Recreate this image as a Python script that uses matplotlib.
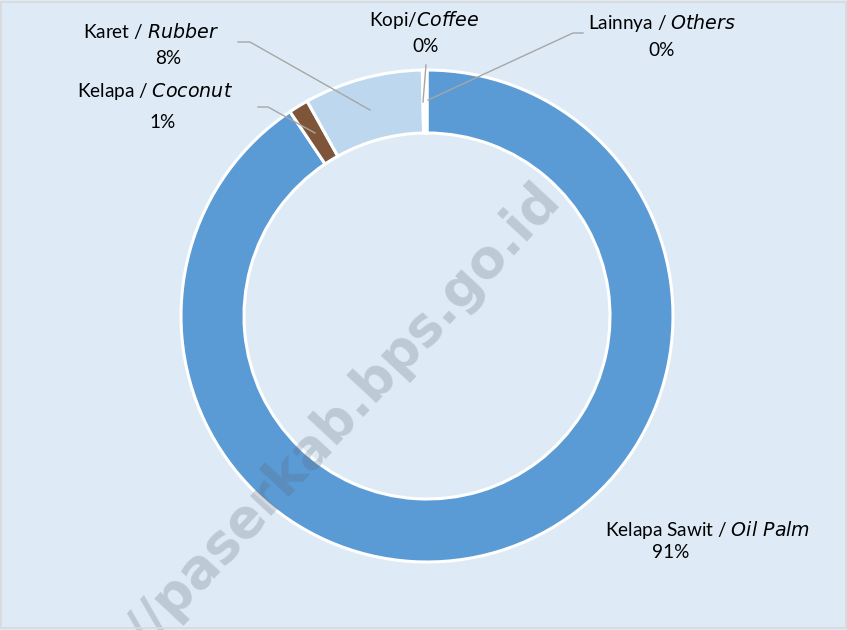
import matplotlib
matplotlib.use('Agg')
import matplotlib.pyplot as plt
from matplotlib.patches import Rectangle

# share of plantation area by crop (%), clockwise from 12 o'clock
crops_id = ['Kelapa Sawit', 'Kelapa', 'Karet', 'Kopi', 'Lainnya']
crops_en = ['Oil Palm', 'Coconut', 'Rubber', 'Coffee', 'Others']
shares = [90.6, 1.3, 7.8, 0.2, 0.1]
colors = ['#5B9BD5', '#7F5539', '#BDD7EE', '#FFC000', '#F4B183']

BG = '#DEEBF7'
plt.rcParams['font.family'] = ['Lato', 'DejaVu Sans']

fig = plt.figure(figsize=(8.47, 6.3), dpi=100)
fig.patch.set_facecolor(BG)
ax = fig.add_axes([0, 0, 1, 1])
ax.set_facecolor(BG)

# y axis is flipped so work in pixel-like coordinates; counterclock in data = clockwise on screen
ax.pie(shares, colors=colors, startangle=-90, counterclock=True,
       center=(427, 316), radius=246, frame=False,
       wedgeprops=dict(width=63, edgecolor='white', linewidth=2.2))
ax.set_xlim(0, 847)
ax.set_ylim(630, 0)
ax.axis('off')

# leader lines
line_kw = dict(color='#A6A6A6', lw=1.0, zorder=3)
ax.plot([238, 250, 370], [42, 42, 110], **line_kw)
ax.plot([258, 268, 315], [107, 107, 133], **line_kw)
ax.plot([426, 423], [65, 102], **line_kw)
ax.plot([583, 573, 428], [33, 33, 100], **line_kw)

# labels: (name line center, percent line center)
label_pos = [((708, 530), (671, 553)),
             ((155, 92), (163, 122)),
             ((151, 31), (168, 58)),
             ((424, 20), (426, 47)),
             ((662, 23), (662, 50))]
seps = [' / ', ' / ', ' / ', '/', ' / ']
fs = 13.7
for name, eng, sh, sep, (p1, p2) in zip(crops_id, crops_en, shares, seps, label_pos):
    ax.text(p1[0], p1[1], f'{name}{sep}$\\it{{{eng.replace(" ", "~")}}}$',
            ha='center', va='center', fontsize=fs, color='black')
    ax.text(p2[0], p2[1], f'{round(sh):.0f}%', ha='center', va='center',
            fontsize=fs, color='black')

# watermark
ax.text(344, 416, '//paserkab.bps.go.id', rotation=47, ha='center', va='center',
        fontsize=38, fontweight='bold', color='#5A6470', alpha=0.25, zorder=5,
        family=['DejaVu Sans'])

fig.add_artist(Rectangle((0.001, 0.003), 0.998, 0.994, transform=fig.transFigure,
                         fill=False, edgecolor='#D9D9D9', lw=1.2))

fig.savefig('out.png', dpi=100, facecolor=BG)
